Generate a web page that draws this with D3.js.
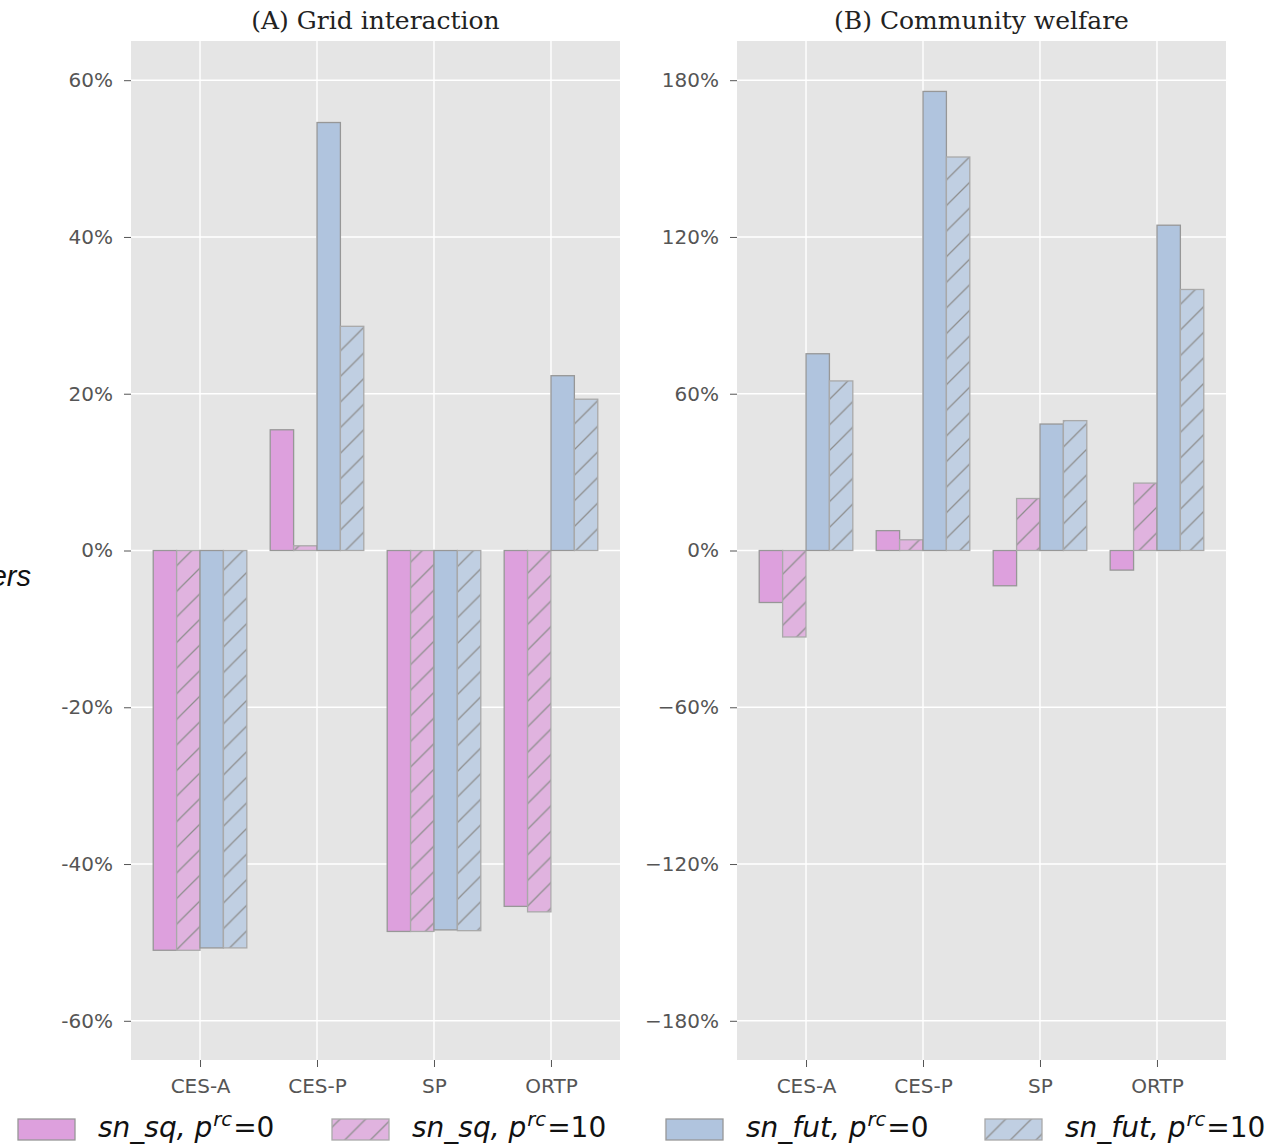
<!DOCTYPE html>
<html>
<head>
<meta charset="utf-8">
<script src="https://cdn.jsdelivr.net/npm/d3@7"></script>
<style>
  html, body { margin: 0; padding: 0; background: #ffffff; }
  svg { display: block; }
</style>
</head>
<body>
<div id="chart"></div>
<script>
// Scenario categories
const categories = ["CES-A", "CES-P", "SP", "ORTP"];

// (A) Grid interaction, % change
const gridSnSq0  = [-51.0, 15.4, -48.6, -45.4];
const gridSnSq10 = [-51.0, 0.6, -48.6, -46.1];
const gridSnFut0 = [-50.7, 54.6, -48.4, 22.3];
const gridSnFut10 = [-50.7, 28.6, -48.5, 19.3];

// (B) Community welfare, % change
const welfSnSq0  = [-19.9, 7.6, -13.5, -7.5];
const welfSnSq10 = [-33.1, 4.1, 19.9, 25.8];
const welfSnFut0 = [75.3, 175.7, 48.4, 124.5];
const welfSnFut10 = [64.9, 150.6, 49.7, 99.9];

// Tick values
const gridTicks = [-60, -40, -20, 0, 20, 40, 60];
const welfareTicks = [-180, -120, -60, 0, 60, 120, 180];

// Series descriptors (network name, recharge price)
const seriesNet = ["sn_sq", "sn_sq", "sn_fut", "sn_fut"];
const seriesPrc = ["0", "10", "0", "10"];

const W = 1283, H = 1146;
const svg = d3.select("#chart").append("svg")
  .attr("width", W).attr("height", H)
  .attr("viewBox", `0 0 ${W} ${H}`);

// Bar styling per series: solid / hatched, pink / blue
const styles = [
  { fill: "#DDA0DD", hatch: false, stroke: "#979797" },
  { fill: "#E0B3DF", hatch: true,  stroke: "#a9a9a9" },
  { fill: "#B0C4DE", hatch: false, stroke: "#979797" },
  { fill: "#C0CFE2", hatch: true,  stroke: "#a9a9a9" }
];

// Diagonal hatch pattern
const defs = svg.append("defs");
const hs = 25.6;
const pat = defs.append("pattern")
  .attr("id", "hatch")
  .attr("patternUnits", "userSpaceOnUse")
  .attr("width", hs).attr("height", hs);
pat.append("path")
  .attr("d", `M0,${hs} L${hs},0 M${-hs/4},${hs/4} L${hs/4},${-hs/4} M${hs*3/4},${hs*5/4} L${hs*5/4},${hs*3/4}`)
  .attr("stroke", "#8e8e8e").attr("stroke-width", 1.3).attr("fill", "none");

const plotTop = 41, plotBottom = 1060;
const offsets = [-0.3, -0.1, 0.1, 0.3];
const barW = 0.2;

function panel(opts) {
  const { left, right, title, ticks, dom, minus, series } = opts;
  const x = d3.scaleLinear().domain([-0.59, 3.59]).range([left, right]);
  const y = d3.scaleLinear().domain([-dom, dom]).range([plotBottom, plotTop]);
  const g = svg.append("g");

  g.append("rect")
    .attr("x", left).attr("y", plotTop)
    .attr("width", right - left).attr("height", plotBottom - plotTop)
    .attr("fill", "#E5E5E5");

  // grid lines
  g.selectAll("line.hg").data(ticks).join("line")
    .attr("x1", left).attr("x2", right)
    .attr("y1", d => y(d)).attr("y2", d => y(d))
    .attr("stroke", "#ffffff").attr("stroke-width", 1.4);
  g.selectAll("line.vg").data(categories).join("line")
    .attr("x1", (d, i) => x(i)).attr("x2", (d, i) => x(i))
    .attr("y1", plotTop).attr("y2", plotBottom)
    .attr("stroke", "#ffffff").attr("stroke-width", 1.4);

  // bars
  series.forEach((vals, s) => {
    const st = styles[s];
    const bars = g.append("g");
    vals.forEach((v, i) => {
      const x0 = x(i + offsets[s] - barW / 2), x1 = x(i + offsets[s] + barW / 2);
      const y0 = y(Math.max(0, v)), y1 = y(Math.min(0, v));
      bars.append("rect")
        .attr("x", x0).attr("y", y0).attr("width", x1 - x0).attr("height", y1 - y0)
        .attr("fill", st.fill);
      if (st.hatch) {
        bars.append("rect")
          .attr("x", x0).attr("y", y0).attr("width", x1 - x0).attr("height", y1 - y0)
          .attr("fill", "url(#hatch)");
      }
      bars.append("rect")
        .attr("x", x0).attr("y", y0).attr("width", x1 - x0).attr("height", y1 - y0)
        .attr("fill", "none").attr("stroke", st.stroke).attr("stroke-width", 1.3);
    });
  });

  // y axis
  const yAxis = d3.axisLeft(y).tickValues(ticks).tickSize(7).tickPadding(11)
    .tickFormat(d => (d < 0 ? minus + Math.abs(d) : d) + "%");
  const ya = g.append("g").attr("transform", `translate(${left},0)`).call(yAxis);
  ya.select(".domain").remove();
  ya.selectAll(".tick line").attr("stroke", "#555").attr("stroke-width", 1);
  ya.selectAll(".tick text").attr("fill", "#555")
    .attr("font-family", "DejaVu Sans").attr("font-size", 20);

  // x axis
  const xAxis = d3.axisBottom(x).tickValues([0, 1, 2, 3]).tickSize(7).tickPadding(12)
    .tickFormat(i => categories[i]);
  const xa = g.append("g").attr("transform", `translate(0,${plotBottom})`).call(xAxis);
  xa.select(".domain").remove();
  xa.selectAll(".tick line").attr("stroke", "#555").attr("stroke-width", 1);
  xa.selectAll(".tick text").attr("fill", "#555")
    .attr("font-family", "DejaVu Sans").attr("font-size", 20);

  g.append("text")
    .attr("x", (left + right) / 2).attr("y", 29)
    .attr("text-anchor", "middle")
    .attr("font-family", "DejaVu Serif").attr("font-size", 25)
    .attr("fill", "#222")
    .text(title);
}

panel({
  left: 131, right: 620, title: "(A) Grid interaction",
  ticks: gridTicks, dom: 65, minus: "-",
  series: [gridSnSq0, gridSnSq10, gridSnFut0, gridSnFut10]
});
panel({
  left: 737, right: 1226, title: "(B) Community welfare",
  ticks: welfareTicks, dom: 195, minus: "\u2212",
  series: [welfSnSq0, welfSnSq10, welfSnFut0, welfSnFut10]
});

// side label fragment
svg.append("text")
  .attr("x", 31).attr("y", 586)
  .attr("text-anchor", "end")
  .attr("font-family", "Liberation Sans").attr("font-style", "italic")
  .attr("font-size", 29).attr("fill", "#111")
  .text("ers");

// legend
const legX = [18, 332, 666, 985];
const leg = svg.append("g");
seriesNet.forEach((net, s) => {
  const st = styles[s];
  const lx = legX[s], ly = 1119;
  leg.append("rect").attr("x", lx).attr("y", ly).attr("width", 57).attr("height", 21)
    .attr("fill", st.fill);
  if (st.hatch) {
    leg.append("rect").attr("x", lx).attr("y", ly).attr("width", 57).attr("height", 21)
      .attr("fill", "url(#hatch)");
  }
  leg.append("rect").attr("x", lx).attr("y", ly).attr("width", 57).attr("height", 21)
    .attr("fill", "none").attr("stroke", st.stroke).attr("stroke-width", 1.3);

  const t = leg.append("text")
    .attr("x", lx + 80).attr("y", 1137)
    .attr("font-family", "DejaVu Sans").attr("font-size", 28).attr("fill", "#111");
  t.append("tspan").attr("font-style", "italic").text(net + ", p");
  t.append("tspan").attr("font-style", "italic").attr("font-size", 19.6).attr("dy", -11).attr("dx", 1).text("rc");
  t.append("tspan").attr("dy", 11).attr("dx", 1).text("=" + seriesPrc[s]);
});
</script>
</body>
</html>
